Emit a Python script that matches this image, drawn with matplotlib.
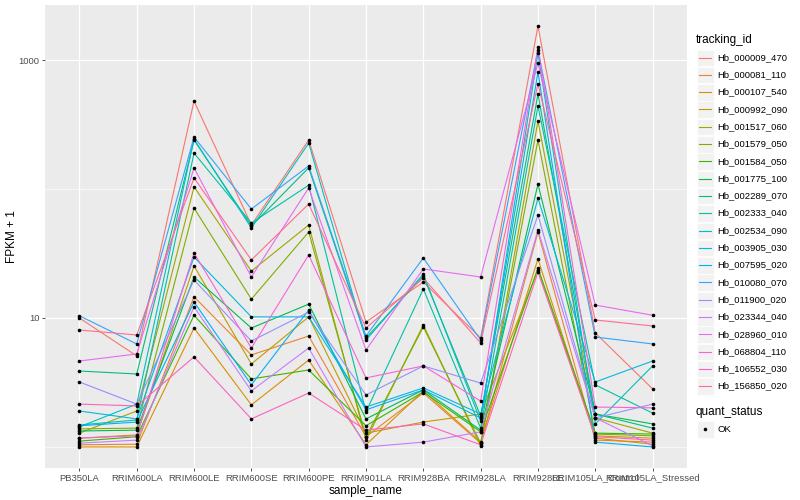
import numpy as np
import matplotlib
matplotlib.use('Agg')
import matplotlib.pyplot as plt
from matplotlib.patches import Rectangle
from matplotlib.lines import Line2D

plt.rcParams['font.family'] = ['Liberation Sans', 'DejaVu Sans']

samples = ['PB350LA', 'RRIM600LA', 'RRIM600LE', 'RRIM600SE', 'RRIM600PE',
           'RRIM901LA', 'RRIM928BA', 'RRIM928LA', 'RRIM928LE',
           'RRIM105LA_Control', 'RRIM105LA_Stressed']

tracking_ids = ['Hb_000009_470', 'Hb_000081_110', 'Hb_000107_540', 'Hb_000992_090',
                'Hb_001517_060', 'Hb_001579_050', 'Hb_001584_050', 'Hb_001775_100',
                'Hb_002289_070', 'Hb_002333_040', 'Hb_002534_090', 'Hb_003905_030',
                'Hb_007595_020', 'Hb_010080_070', 'Hb_011900_020', 'Hb_023344_040',
                'Hb_028960_010', 'Hb_068804_110', 'Hb_106552_030', 'Hb_156850_020']

colors = ['#F8766D', '#EA8331', '#D89000', '#C09B00', '#A3A500', '#7CAE00',
          '#39B600', '#00BB4E', '#00BF7D', '#00C1A3', '#00BFC4', '#00BAE0',
          '#00B0F6', '#35A2FF', '#9590FF', '#C77CFF', '#E76BF3', '#FA62DB',
          '#FF62BC', '#FF6C91']

# FPKM + 1, one row per tracking_id, one column per sample
fpkm = [
    [10.0, 5.08, 481, 52.6, 240, 9.31, 19.0, 7.00, 1836, 7.65, 2.82],
    [1.04, 1.05, 14.6, 5.17, 7.25, 1.20, 2.62, 1.07, 46.4, 1.13, 1.09],
    [1.0, 1.0, 8.36, 2.12, 4.72, 1.04, 2.72, 1.09, 28.7, 1.17, 1.05],
    [1.17, 1.24, 25.3, 4.40, 10.2, 1.28, 1.56, 1.80, 23.6, 1.22, 1.17],
    [1.28, 1.90, 104, 23.1, 52.6, 1.13, 8.83, 1.02, 337, 1.68, 1.28],
    [1.38, 1.40, 71.2, 14.0, 46.4, 1.20, 8.51, 1.07, 240, 1.26, 1.22],
    [1.11, 1.20, 10.5, 3.37, 3.95, 1.46, 2.67, 1.31, 24.4, 1.28, 1.26],
    [1.33, 1.35, 20.8, 8.36, 12.8, 1.65, 2.77, 1.35, 109, 1.80, 1.51],
    [3.88, 3.68, 240, 51.6, 146, 7.00, 21.2, 1.74, 545, 1.80, 1.40],
    [1.48, 1.62, 190, 54.5, 107, 1.87, 16.8, 1.40, 440, 3.03, 1.83],
    [1.43, 2.15, 244, 49.9, 227, 6.75, 21.9, 1.59, 1133, 1.51, 4.25],
    [1.90, 1.65, 29.7, 10.2, 10.2, 2.04, 2.87, 1.80, 85, 3.19, 4.64],
    [1.46, 1.56, 13.3, 3.03, 11.5, 1.94, 2.77, 1.68, 807, 1.09, 1.0],
    [10.4, 6.29, 253, 70, 151, 7.25, 29.2, 6.75, 1196, 7.12, 6.29],
    [3.19, 2.15, 19.7, 6.63, 11.1, 2.53, 4.25, 3.13, 62.9, 1.68, 2.15],
    [1.07, 1.13, 12.2, 2.72, 5.85, 1.0, 1.09, 1.31, 48.1, 1.68, 1.02],
    [4.64, 5.26, 146, 20.8, 102, 5.65, 24.0, 20.8, 948, 12.6, 10.5],
    [1.17, 1.22, 31.9, 5.85, 30.8, 3.43, 4.25, 2.27, 1262, 2.04, 2.01],
    [2.15, 2.08, 4.99, 1.65, 2.62, 1.35, 1.51, 1.04, 22.7, 1.20, 1.13],
    [8.07, 7.38, 122, 28.2, 76.5, 8.36, 20.4, 6.40, 652, 9.65, 8.67],
]

fig = plt.figure(figsize=(8, 5), dpi=100)
ax = fig.add_axes([45/800, 1 - 468/500, 642/800, 463/500])
ax.set_facecolor('#EBEBEB')

x = np.arange(len(samples))
for vals, c in zip(fpkm, colors):
    ax.plot(x, vals, color=c, lw=0.8, zorder=3)
for vals in fpkm:
    ax.plot(x, vals, 'o', color='black', ms=2.6, mew=0, zorder=4)

ax.set_yscale('log')
lo, hi = np.log10(1.0), np.log10(1836)
pad = 0.05 * (hi - lo)
ax.set_ylim(10**(lo - pad), 10**(hi + pad))
ax.set_xlim(-0.6, len(samples) - 0.4)

ax.set_yticks([10, 1000])
ax.set_yticklabels(['10', '1000'])
ax.set_yticks([1, 100], minor=True)
ax.yaxis.set_minor_formatter(plt.NullFormatter())
ax.set_xticks(x)
ax.set_xticklabels(samples)

ax.grid(True, which='major', color='white', lw=0.9, zorder=1)
ax.grid(True, which='minor', axis='y', color='white', lw=0.45, zorder=1)
ax.set_axisbelow(True)
for s in ax.spines.values():
    s.set_visible(False)
ax.tick_params(which='major', length=2.5, width=0.6, color='#333333',
               labelsize=6.8, labelcolor='#4D4D4D', pad=1.5)
ax.tick_params(which='minor', length=0)

ax.set_xlabel('sample_name', fontsize=8.5, labelpad=1.5)
ax.set_ylabel('FPKM + 1', fontsize=8.5)
ax.yaxis.set_label_coords(-27/642, 0.5)

# legend, drawn in pixel coordinates
lg = fig.add_axes([690/800, 0, 110/800, 1])
lg.set_xlim(690, 800)
lg.set_ylim(500, 0)
lg.axis('off')
lg.text(696, 40, 'tracking_id', fontsize=8.5, va='center', ha='left')
for i, (name, c) in enumerate(zip(tracking_ids, colors)):
    yc = 57.5 + 17.3 * i
    lg.add_patch(Rectangle((697, yc - 8), 16.5, 16.5, facecolor='#F2F2F2', edgecolor='white', lw=0.5))
    lg.add_line(Line2D([699, 711], [yc, yc], color=c, lw=0.8))
    lg.text(717, yc, name, fontsize=6.8, va='center', ha='left')
lg.text(696, 412, 'quant_status', fontsize=8.5, va='center', ha='left')
lg.add_patch(Rectangle((697, 421), 16.5, 16.5, facecolor='#F2F2F2', edgecolor='white', lw=0.5))
lg.plot([705], [429], 'o', color='black', ms=2.6, mew=0)
lg.text(717, 429, 'OK', fontsize=6.8, va='center', ha='left')

fig.savefig('out.png', dpi=100)
